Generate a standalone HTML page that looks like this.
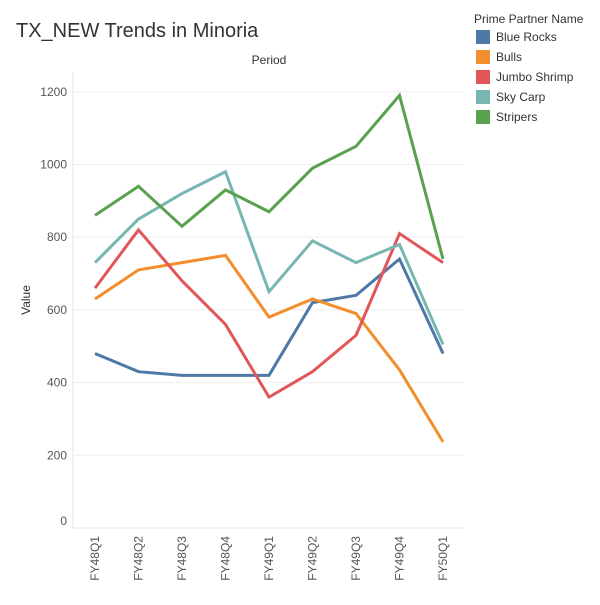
<!DOCTYPE html>
<html><head><meta charset="utf-8"><style>
body{margin:0;background:#fff;font-family:"Liberation Sans",Arial,sans-serif;}
svg text{font-family:"Liberation Sans",Arial,sans-serif;}
</style></head><body>
<svg id="chart" width="600" height="600">
<text x="16" y="37" font-size="20" fill="#333">TX_NEW Trends in Minoria</text>
<text x="269" y="64" font-size="12" fill="#333" text-anchor="middle">Period</text>
<text transform="translate(30,300) rotate(-90)" font-size="12" fill="#333" text-anchor="middle">Value</text>
<g id="grid"></g><g id="lines"></g><g id="xlabels"></g><g id="legend"></g>
</svg>
<script>
const categories=["FY48Q1","FY48Q2","FY48Q3","FY48Q4","FY49Q1","FY49Q2","FY49Q3","FY49Q4","FY50Q1"];
const yTicks=[0,200,400,600,800,1000,1200];
const seriesNames=["Blue Rocks","Bulls","Jumbo Shrimp","Sky Carp","Stripers"];
const blueRocks=[480,430,420,420,420,620,640,740,480];
const bulls=[630,710,730,750,580,630,590,435,237];
const jumboShrimp=[660,820,680,560,360,430,530,810,730];
const skyCarp=[730,850,920,980,650,790,730,780,505];
const stripers=[860,940,830,930,870,990,1050,1190,740];
const colors=["#4e79a7","#f28e2b","#e15759","#76b7b2","#59a14f"];
const NS="http://www.w3.org/2000/svg";
const x=i=>95+i*43.5;
const y=v=>528-v*(72.7/200);
function mk(tag,attrs,parent){const e=document.createElementNS(NS,tag);for(const k in attrs)e.setAttribute(k,attrs[k]);parent.appendChild(e);return e;}
const grid=document.getElementById('grid');
let ax=mk('line',{x1:73,x2:73,y1:72,y2:528,stroke:"#e6e6e6"},grid);


let bx=mk('line',{x1:73,x2:464,y1:528,y2:528,stroke:"#e6e6e6"},grid);


yTicks.forEach(t=>{
 if(t>0){let g=mk('line',{x1:73,x2:464,y1:y(t),y2:y(t),stroke:"#eeeeee"},grid);
 
 }
 let tx=mk('text',{x:67,y:y(t)+(t===0?-3:4),"font-size":12,fill:"#555","text-anchor":"end"},grid);
 tx.textContent=t;
 
 
});
const xl=document.getElementById('xlabels');
categories.forEach((c,i)=>{
 let t=mk('text',{transform:`translate(${x(i)+4},536) rotate(-90)`,"font-size":12,fill:"#555","text-anchor":"end"},xl);
 t.textContent=c;
 
 
});
const data=[blueRocks,bulls,jumboShrimp,skyCarp,stripers];
const lines=document.getElementById('lines');
data.forEach((d,s)=>{
 let p=mk('polyline',{points:d.map((v,i)=>x(i)+","+y(v)).join(" "),fill:"none",stroke:colors[s],"stroke-width":3,"stroke-linejoin":"miter"},lines);
 
 
});
const lg=document.getElementById('legend');
let lt=mk('text',{x:474,y:23,"font-size":12,fill:"#333"},lg);
lt.textContent="Prime Partner Name";


seriesNames.forEach((n,i)=>{
 let r=mk('rect',{x:476,y:30+i*20,width:14,height:14,fill:colors[i]},lg);
 
 
 let t=mk('text',{x:496,y:41+i*20,"font-size":12,fill:"#333"},lg);
 t.textContent=n;
 
 
});
</script>
</body></html>
